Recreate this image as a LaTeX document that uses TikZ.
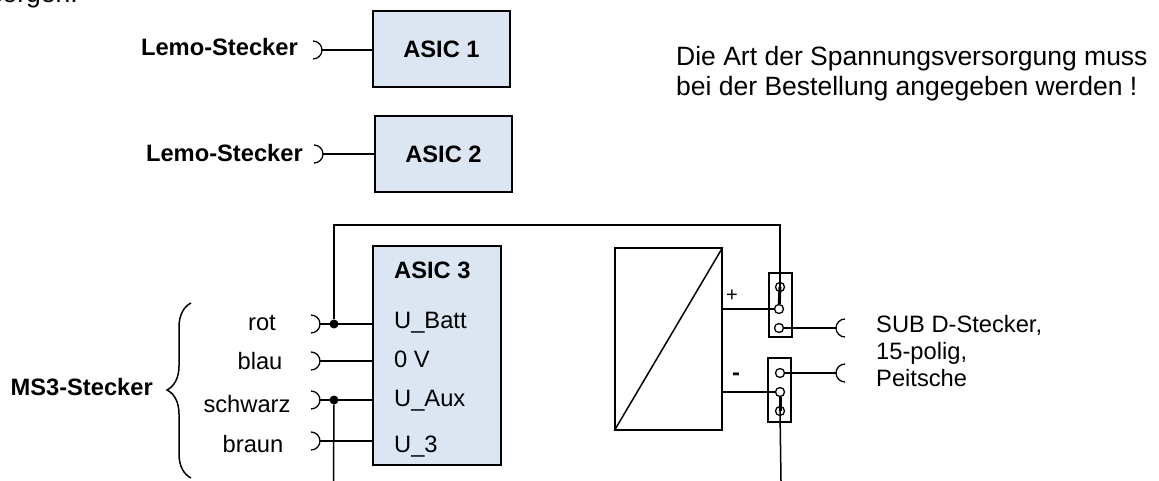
\documentclass[tikz,border=0pt]{standalone}
\usepackage{fontspec}
\setmainfont{Liberation Sans}
\usetikzlibrary{decorations.pathreplacing}
\definecolor{asicblue}{RGB}{220,230,242}
\tikzset{
  asic/.style={rectangle,draw=black,fill=asicblue,line width=1.5pt,
               minimum width=137pt,minimum height=76pt,
               font=\fontsize{23.7}{28}\selectfont\bfseries},
  wire/.style={line width=1.5pt},
  plug/.style={line width=1.3pt},
  dot/.style={circle,fill=black,inner sep=0pt,minimum size=9pt},
  terminal/.style={circle,draw=black,fill=white,line width=1.3pt,
                   inner sep=0pt,minimum size=9pt},
  strip/.style={rectangle,draw=black,line width=1.3pt,inner sep=0pt,
                minimum width=23pt,minimum height=64pt},
  boldlabel/.style={font=\fontsize{23.7}{28}\selectfont\bfseries,inner sep=0pt,anchor=base},
  plainlabel/.style={font=\fontsize{23.7}{28}\selectfont,inner sep=0pt,anchor=base},
  leftlabel/.style={plainlabel,anchor=base west},
  notelabel/.style={font=\fontsize{26.5}{30}\selectfont,inner sep=0pt,anchor=base west},
}

\begin{document}
\begin{tikzpicture}[x=1pt,y=-1pt]
    \useasboundingbox (0,0) rectangle (1159,481);

    % Cut-off line at the top
    \node[notelabel,anchor=base east] (cut) at (78,2.5) {versorgen.};

    % Boxes
    \node[asic] (asica) at (441.5,49)  {ASIC 1};
    \node[asic] (asicb) at (443.5,154) {ASIC 2};
    \node[asic,minimum width=128pt,minimum height=219pt] (asicc) at (437,355.5) {};
    \node[rectangle,draw=black,line width=1.5pt,minimum width=107pt,minimum height=182pt]
        (conv) at (668.5,339) {};

    % Text above right
    \node[notelabel] (notea) at (676,66) {Die Art der Spannungsversorgung muss};
    \node[notelabel] (noteb) at (676,96) {bei der Bestellung angegeben werden !};

    % Plug names
    \node[boldlabel,anchor=base east] (lemoa) at (298,56)  {Lemo-Stecker};
    \node[boldlabel,anchor=base east] (lemob) at (303,162) {Lemo-Stecker};
    \node[boldlabel,anchor=base east] (msdrei) at (153,395) {MS3-Stecker};
    \node[plainlabel] (rot)     at (262,330) {rot};
    \node[plainlabel] (blau)    at (260,369) {blau};
    \node[plainlabel] (schwarz) at (247,412) {schwarz};
    \node[plainlabel] (braun)   at (253,452) {braun};

    % Signals of ASIC 3
    \node[boldlabel,anchor=base west] (asicctitle) at (394,278) {ASIC 3};
    \node[leftlabel] (ubatt) at (394,328) {U\_Batt};
    \node[leftlabel] (nullv) at (394,367) {0 V};
    \node[leftlabel] (uaux)  at (394,406) {U\_Aux};
    \node[leftlabel] (udrei) at (394,452) {U\_3};

    % Plugs
    \coordinate (plugasica) at (322,50);
    \coordinate (plugasicb) at (323,154);
    \coordinate (plugrot)     at (320,324);
    \coordinate (plugblau)    at (320,361);
    \coordinate (plugschwarz) at (320,400);
    \coordinate (plugbraun)   at (320,441);
    \foreach \p in {plugasica,plugasicb,plugrot,plugblau,plugschwarz,plugbraun}
        \draw[plug] ([shift={(-9,-9)}]\p) arc[start angle=90,end angle=-90,radius=9pt];
    \coordinate (sockettop) at (836,328);
    \coordinate (socketbot) at (836,373);
    \foreach \p in {sockettop,socketbot}
        \draw[plug] ([shift={(9,-9)}]\p) arc[start angle=90,end angle=270,radius=9pt];

    % Wires to the boxes
    \draw[wire] (plugasica) -- (plugasica -| asica.west);
    \draw[wire] (plugasicb) -- (plugasicb -| asicb.west);
    \draw[wire] (plugrot) -- (plugrot -| asicc.west);
    \draw[wire] (plugblau) -- (plugblau -| asicc.west);
    \draw[wire] (plugschwarz) -- (plugschwarz -| asicc.west);
    \draw[wire] (plugbraun) -- (plugbraun -| asicc.west);

    % Brace
    \coordinate (bracetop) at (191,303);
    \coordinate (bracebot) at (191,478);
    \draw[line width=1.5pt,decorate,decoration={brace,amplitude=24pt,aspect=0.503}]
        (bracebot) -- (bracetop);

    % Terminal strips
    \node[strip] (stripa) at (780.5,305) {};
    \node[strip] (stripb) at (779.5,390) {};
    \node[terminal] (terma) at (780,287) {};
    \node[terminal] (termb) at (779,309) {};
    \node[terminal] (termc) at (779,328) {};
    \node[terminal] (termd) at (780,373) {};
    \node[terminal] (terme) at (780,392) {};
    \node[terminal] (termf) at (780,411) {};
    \draw[line width=3pt] (terma.center) -- (termb);
    \draw[line width=3pt] (terme) -- (termf.center);

    % Junctions and supply lines
    \node[dot] (jrot) at (334,324) {};
    \node[dot] (jaux) at (334,400) {};
    \coordinate (ubattend) at (780,225);
    \coordinate (groundaux) at (333.5,481);
    \coordinate (groundconv) at (781,481);
    \draw[wire] (jrot) |- (ubattend) -- (terma.center);
    \draw[wire] (jaux) -- (groundaux);
    \draw[wire] (termf.center) -- (groundconv);

    % Converter
    \draw[wire] (conv.south west) -- (conv.north east);
    \draw[wire] (termb) -- (termb -| conv.east);
    \draw[wire] (terme) -- (terme -| conv.east);
    \draw[wire] (termc) -- (sockettop);
    \draw[wire] (termd) -- (socketbot);
    \node[font=\fontsize{20}{24}\selectfont,inner sep=0pt] (plus) at (732,296) {+};
    \node[boldlabel,anchor=center] (minus) at (736,377) {-};

    % Output
    \node[leftlabel] (subd) at (876,332) {SUB D-Stecker,};
    \node[leftlabel] (polig) at (876,359) {15-polig,};
    \node[leftlabel] (peitsche) at (876,386) {Peitsche};
\end{tikzpicture}
\end{document}
